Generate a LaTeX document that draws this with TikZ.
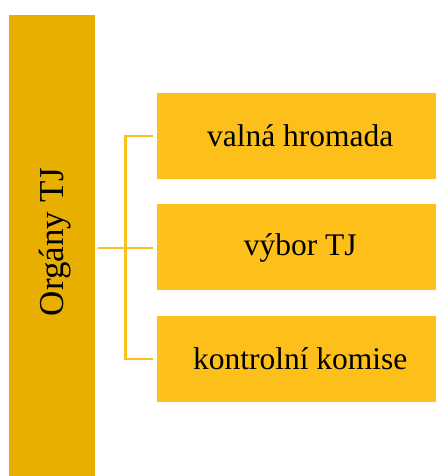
\documentclass[tikz,border=0pt]{standalone}
\usepackage{fontspec}
\setmainfont{Liberation Serif}
\definecolor{bardark}{HTML}{E8AE00}
\definecolor{boxgold}{HTML}{FDBF1A}
\begin{document}
\begin{tikzpicture}[x=1pt,y=1pt,
  itembox/.style={fill=boxgold, draw=none, minimum width=279.5pt, minimum height=86pt,
    inner sep=0pt},
  itemtext/.style={font=\fontsize{31.5}{34}\selectfont, text=black, inner sep=0pt},
  link/.style={draw=boxgold, line width=2.2pt}]
\useasboundingbox (0,0) rectangle (437,476);
% tall left bar with rotated title
\node[fill=bardark, minimum width=86.5pt, minimum height=461.5pt, inner sep=0pt,
  anchor=north west] (bar) at (8.5,461.5) {};
\node[rotate=90, font=\fontsize{35}{38}\selectfont] (title) at (55.5,234) {Orgány TJ};
% three items
\node[itembox] (b1) at (296.25,340) {};
\node[itembox] (b2) at (296.25,228.5) {};
\node[itembox] (b3) at (296.25,117) {};
\node[itemtext] (t1) at ([xshift=4pt]b1.center) {valná hromada};
\node[itemtext] (t2) at ([xshift=4pt]b2.center) {výbor TJ};
\node[itemtext] (t3) at ([xshift=4pt]b3.center) {kontrolní komise};
% bracket connector
\coordinate (hub) at (125.5,228);
\draw[link] ([xshift=3pt]bar.east |- hub) -- ([xshift=-3pt]b2.west |- hub);
\draw[link] ([xshift=-3pt]b1.west) -| (hub) |- ([xshift=-3pt]b3.west);
\end{tikzpicture}
\end{document}
